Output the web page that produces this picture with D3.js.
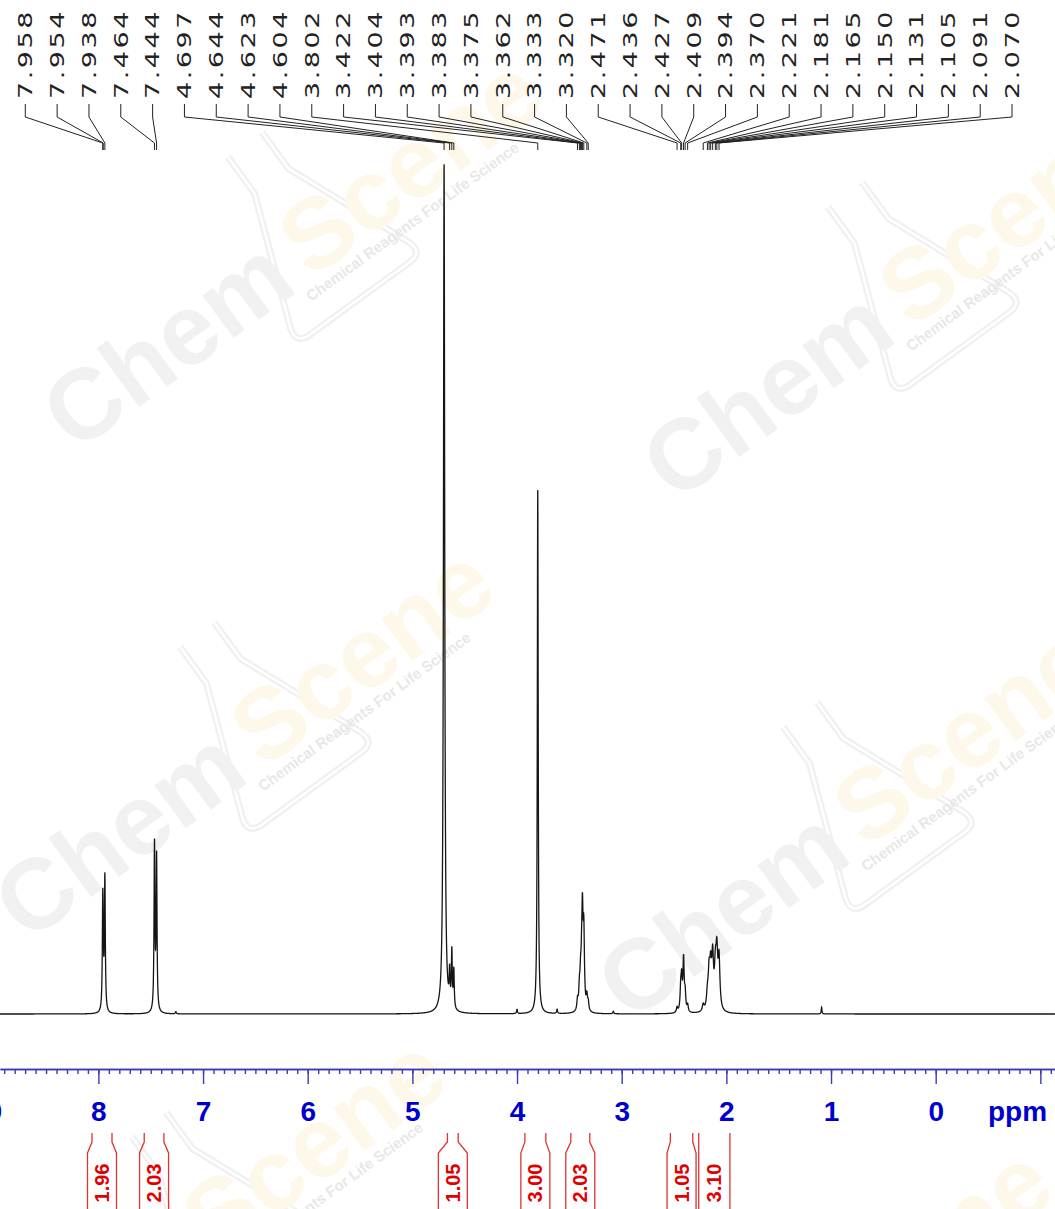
<!DOCTYPE html>
<html>
<head>
<meta charset="utf-8">
<script src="https://cdn.jsdelivr.net/npm/d3@7"></script>
<style>
  html, body { margin: 0; padding: 0; background: #fff; overflow: hidden; }
</style>
</head>
<body>
<div id="chart"></div>
<script>
// Peak pick labels (ppm), left to right
const peakLabels = ['7.958', '7.954', '7.938', '7.464', '7.444', '4.697', '4.644', '4.623',
  '4.604', '3.802', '3.422', '3.404', '3.393', '3.383', '3.375', '3.362', '3.333', '3.320',
  '2.471', '2.436', '2.427', '2.409', '2.394', '2.370', '2.221', '2.181', '2.165', '2.150',
  '2.131', '2.105', '2.091', '2.070'];

// Spectrum lines: [ppm, height (tallest = 100), half width (ppm)]
const lines = [
  [7.958, 12, 0.005], [7.954, 3, 0.005], [7.938, 15.7, 0.005],
  [7.464, 19.6, 0.005], [7.444, 18.1, 0.005],
  [4.697, 100, 0.007],
  [4.644, 3.8, 0.005], [4.623, 6.6, 0.005], [4.604, 4.5, 0.005],
  [3.802, 61.7, 0.005],
  [3.422, 1.2, 0.007], [3.404, 2.3, 0.007], [3.393, 3.2, 0.007], [3.383, 3.6, 0.007],
  [3.375, 10.2, 0.007], [3.362, 8.6, 0.007], [3.333, 1.6, 0.007], [3.320, 1.0, 0.007],
  [2.471, 0.6, 0.007], [2.436, 2.5, 0.007], [2.427, 3.4, 0.007], [2.409, 6, 0.007],
  [2.394, 2, 0.007], [2.370, 0.8, 0.007],
  [2.221, 0.8, 0.01], [2.181, 1.7, 0.01], [2.165, 4, 0.01], [2.150, 4.3, 0.01],
  [2.131, 5.8, 0.01], [2.105, 4.3, 0.01], [2.091, 6, 0.01], [2.070, 5.8, 0.01]
];

// Small unlabelled signals
const impurities = [
  [7.26, 0.25, 0.005], [4.00, 0.5, 0.005], [3.617, 0.5, 0.005],
  [3.08, 0.3, 0.005], [1.09, 0.8, 0.004]
];

// Integrals: ppm range and value
const integralRanges = [[8.061, 7.870], [7.562, 7.374], [4.665, 4.562], [3.925, 3.725],
  [3.486, 3.305], [2.535, 2.321], [2.264, 1.966]];
const integralValues = ['1.96', '2.03', '1.05', '3.00', '2.03', '1.05', '3.10'];

const majorTicks = [9, 8, 7, 6, 5, 4, 3, 2, 1, 0, -1];
const minorTicks = d3.range(-11, 90).map(d => d / 10);

const width = 1055;
const height = 1209;

const svg = d3.select('#chart')
  .append('svg')
  .attr('width', width)
  .attr('height', height);

const x = d3.scaleLinear().domain([8.94, -1.14]).range([0, width]);
const y = d3.scaleLinear().domain([0, 100]).range([1014, 165]);

// Watermark logos (faint, behind everything)
const logoSpots = [[300, 290], [900, 340], [252, 780], [855, 860], [204, 1270], [810, 1380]];
const marks = svg.append('g').attr('class', 'watermark')
  .style('font-family', '"Liberation Sans", Arial, sans-serif');

const flask = 'M20,-150 L20,-105 L-30,25 Q-36,42 -18,42 L105,42 Q122,42 116,25 L62,-105 L62,-150';
logoSpots.forEach(([cx, cy]) => {
  const g = marks.append('g').attr('transform', `translate(${cx},${cy}) rotate(-36)`);
  g.append('path').attr('d', flask)
    .attr('fill', 'none').attr('stroke', '#f0f0f0').attr('stroke-width', 7);
  g.append('path').attr('d', flask)
    .attr('fill', 'none').attr('stroke', '#fff').attr('stroke-width', 2.5);
  g.append('text')
    .attr('x', -278).attr('y', 0)
    .attr('font-size', 100).attr('font-weight', 'bold')
    .attr('fill', '#f1f1f1')
    .text('Chem');
  g.append('text')
    .attr('x', 15).attr('y', -2)
    .attr('font-size', 100).attr('font-weight', 'bold')
    .attr('fill', '#fef8ea')
    .text('Scene');
  g.append('text')
    .attr('x', 2).attr('y', 16)
    .attr('font-size', 15).attr('font-weight', 'bold')
    .attr('fill', '#e8e8e8')
    .text('Chemical Reagents For Life Science');
});

// Spectrum as a sum of Lorentzian lines
const allLines = lines.concat(impurities);
const step = 0.0005;
const ppmPoints = d3.range(8.94, -1.14, -step);
const spectrum = ppmPoints.map(p => {
  let v = 0;
  allLines.forEach(([c, h, w]) => {
    const t = (p - c) / w;
    v += h / (1 + t * t);
  });
  return [p, v];
});

svg.append('path')
  .datum(spectrum)
  .attr('fill', 'none')
  .attr('stroke', '#151515')
  .attr('stroke-width', 1.3)
  .attr('d', d3.line().x(d => x(d[0])).y(d => y(d[1])));

// Peak labels with leader lines
const colX = i => 25.3 + i * 31.83;
const labels = svg.append('g').attr('class', 'peak-labels');

labels.selectAll('path')
  .data(peakLabels)
  .enter()
  .append('path')
  .attr('fill', 'none')
  .attr('stroke', '#222')
  .attr('stroke-width', 1)
  .attr('d', (d, i) => `M${colX(i)},104 L${colX(i)},117 L${x(+d)},143 L${x(+d)},150`);

labels.selectAll('text')
  .data(peakLabels)
  .enter()
  .append('text')
  .attr('transform', (d, i) => `translate(${colX(i)},99) rotate(-90) scale(1.42,1)`)
  .attr('dy', '0.36em')
  .attr('font-family', '"DejaVu Sans", sans-serif')
  .attr('font-size', 19)
  .attr('letter-spacing', '1.8px')
  .attr('fill', '#222')
  .text(d => d);

// Axis
const axisColor = '#3b3bb5';
const axisG = svg.append('g').attr('transform', 'translate(0,1069)');

const minorAxis = d3.axisBottom(x)
  .tickValues(minorTicks)
  .tickSize(5)
  .tickSizeOuter(0)
  .tickFormat('');
axisG.append('g').call(minorAxis);

const majorAxis = d3.axisBottom(x)
  .tickValues(majorTicks)
  .tickSize(15)
  .tickSizeOuter(0)
  .tickPadding(17)
  .tickFormat(d => (d < 0 ? '' : d3.format('d')(d)));
axisG.append('g').attr('class', 'major').call(majorAxis);

axisG.selectAll('path, line').attr('stroke', axisColor).attr('stroke-width', 1.4);
axisG.selectAll('.major text')
  .attr('fill', '#0000cc')
  .attr('font-family', '"Liberation Sans", Arial, sans-serif')
  .attr('font-weight', 'bold')
  .attr('font-size', 28);

svg.append('text')
  .attr('x', 988)
  .attr('y', 1121)
  .attr('fill', '#0000cc')
  .attr('font-family', '"Liberation Sans", Arial, sans-serif')
  .attr('font-weight', 'bold')
  .attr('font-size', 28)
  .text('ppm');

// Integrals
const integ = svg.append('g').attr('class', 'integrals');
integralRanges.forEach(([from, to], i) => {
  const x1 = x(from);
  const x2 = x(to);
  const c = (x1 + x2) / 2;
  const hb = Math.max((x2 - x1) / 2, 14.5);
  integ.append('path')
    .attr('fill', 'none')
    .attr('stroke', '#dd3333')
    .attr('stroke-width', 1.3)
    .attr('d', `M${x1},1133 L${x1},1142 L${c - hb},1153 L${c - hb},1210` +
      ` M${x2},1133 L${x2},1142 L${c + hb},1153 L${c + hb},1210`);
  integ.append('text')
    .attr('transform', `translate(${c},1183) rotate(-90)`)
    .attr('text-anchor', 'middle')
    .attr('dominant-baseline', 'central')
    .attr('fill', '#e00000')
    .attr('font-family', '"Liberation Sans", Arial, sans-serif')
    .attr('font-weight', 'bold')
    .attr('font-size', 20)
    .text(integralValues[i]);
});
</script>
</body>
</html>
